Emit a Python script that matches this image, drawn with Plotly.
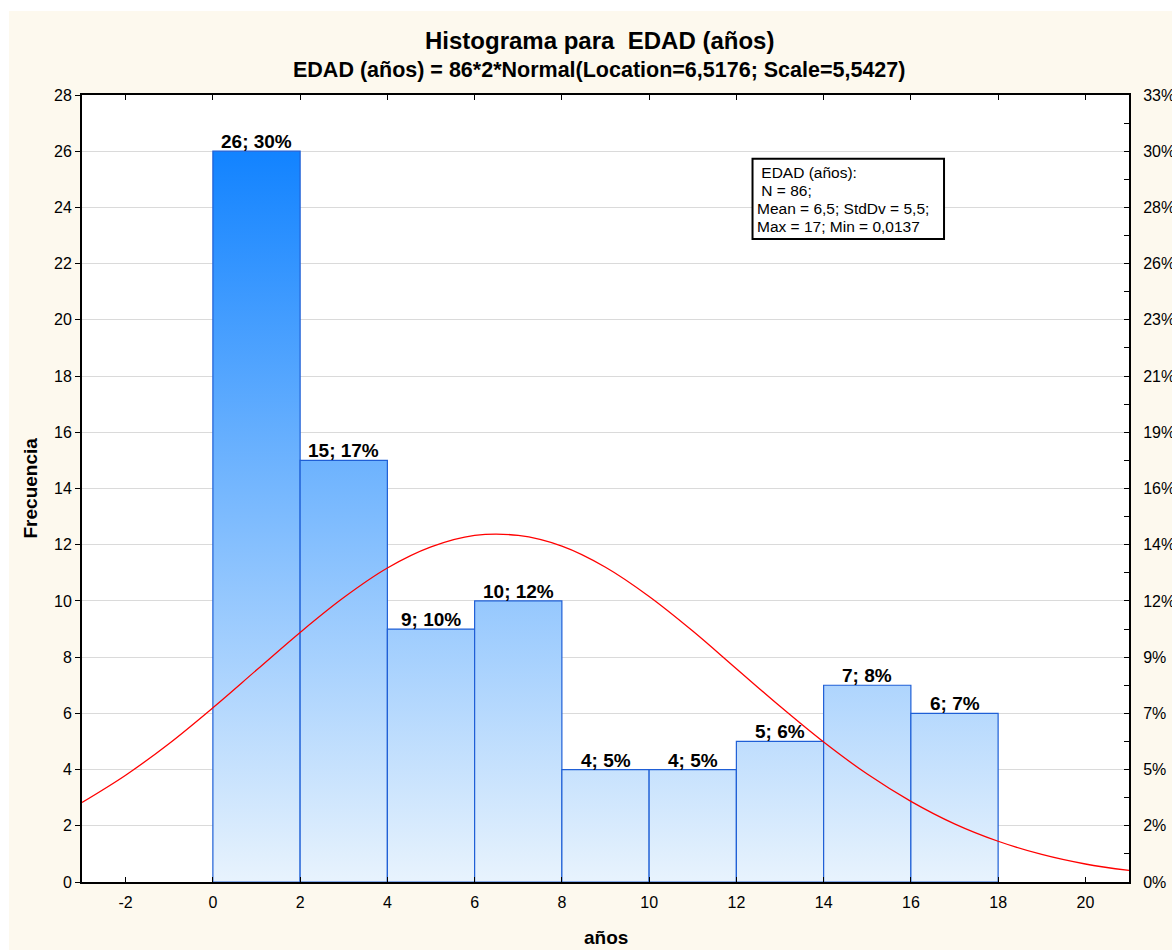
import plotly.graph_objects as go

# ---- data ----
bin_edges = [0, 2, 4, 6, 8, 10, 12, 14, 16, 18]
counts = [26, 15, 9, 10, 4, 4, 5, 7, 6]
n_total = 86
# fitted normal curve (x, expected frequency)
curve_x = list(range(-3, 22))
curve_y = [2.83, 3.80, 4.93, 6.20, 7.54, 8.88, 10.12, 11.17, 11.92, 12.33, 12.33,
           11.95, 11.20, 10.16, 8.93, 7.59, 6.25, 4.98, 3.84, 2.87, 2.07, 1.45,
           0.98, 0.64, 0.41]
x_ticks = [-2, 0, 2, 4, 6, 8, 10, 12, 14, 16, 18, 20]
x_ticktext = ["-2", "0", "2", "4", "6", "8", "10", "12", "14", "16", "18", "20"]
y_ticks = list(range(0, 29, 2))
y2_ticktext = ["0%", "2%", "5%", "7%", "9%", "12%", "14%", "16%", "19%", "21%",
               "23%", "26%", "28%", "30%", "33%"]
title_text = "Histograma para&nbsp; EDAD (años)"
subtitle_text = "EDAD (años) = 86*2*Normal(Location=6,5176; Scale=5,5427)"
stats_lines = ["&nbsp;EDAD (años):", "&nbsp;N = 86;", "Mean = 6,5; StdDv = 5,5;",
               "Max = 17; Min = 0,0137"]

FONT = "Liberation Sans, Arial, sans-serif"
CREAM = "#FDF9EE"
BAR_LINE = "#1F5FD6"

fig = go.Figure()

for i, c in enumerate(counts):
    l, r = bin_edges[i], bin_edges[i + 1]
    fig.add_trace(go.Scatter(
        x=[l, l, r, r, l], y=[0, c, c, 0, 0], mode="lines", fill="toself",
        line=dict(color=BAR_LINE, width=1.2),
        fillgradient=dict(type="vertical",
                          colorscale=[[0, "#E8F3FD"], [1, "#1283FF"]],
                          start=0, stop=max(counts)),
        hoverinfo="skip", showlegend=False))

fig.add_trace(go.Scatter(x=curve_x, y=curve_y, mode="lines",
                         line=dict(color="#FF0000", width=1.3, shape="spline"),
                         showlegend=False, hoverinfo="skip"))
# invisible trace for right axis
fig.add_trace(go.Scatter(x=[0], y=[0], yaxis="y2", mode="markers",
                         marker=dict(opacity=0), showlegend=False, hoverinfo="skip"))

# bar labels
for i, c in enumerate(counts):
    pct = round(c / n_total * 100)
    fig.add_annotation(x=(bin_edges[i] + bin_edges[i + 1]) / 2, y=c,
                       text=f"<b>{c}; {pct}%</b>", showarrow=False,
                       yanchor="bottom", yshift=-3,
                       font=dict(family=FONT, size=19, color="black"))

# stats box
fig.add_shape(type="rect", x0=12.37, x1=16.76, y0=22.88, y1=25.73,
              xref="x", yref="y", line=dict(color="black", width=2),
              fillcolor="white", layer="above")
for k, line in enumerate(stats_lines):
    fig.add_annotation(x=12.42, y=25.73, xref="x", yref="y", xanchor="left",
                       yanchor="middle", yshift=-14 - 18 * k, align="left",
                       showarrow=False, text=line,
                       font=dict(family=FONT, size=15.5, color="black"))

# titles
fig.add_annotation(x=0.4938, y=1.0, xref="paper", yref="paper", yshift=55,
                   text=f"<b>{title_text}</b>", showarrow=False, yanchor="middle",
                   font=dict(family=FONT, size=24, color="black"))
fig.add_annotation(x=0.4938, y=1.0, xref="paper", yref="paper", yshift=25,
                   text=f"<b>{subtitle_text}</b>", showarrow=False, yanchor="middle",
                   font=dict(family=FONT, size=21.5, color="black"))
fig.add_annotation(x=0.5, y=0, xref="paper", yref="paper", yshift=-55,
                   text="<b>años</b>", showarrow=False, yanchor="middle",
                   font=dict(family=FONT, size=19, color="black"))
fig.add_annotation(x=0, y=0.5, xref="paper", yref="paper", xshift=-52,
                   text="<b>Frecuencia</b>", showarrow=False, textangle=-90,
                   xanchor="center", yanchor="middle",
                   font=dict(family=FONT, size=19, color="black"))

# white outer border strips (top and left)
fig.add_shape(type="rect", xref="paper", yref="paper", x0=-0.2, x1=1.1,
              y0=1.1067, y1=1.3, fillcolor="white", line=dict(width=0), layer="below")
fig.add_shape(type="rect", xref="paper", yref="paper", x0=-0.2, x1=-0.0697,
              y0=-0.2, y1=1.3, fillcolor="white", line=dict(width=0), layer="below")

fig.update_layout(
    width=1172, height=950,
    margin=dict(l=82, r=43, t=95, b=68, autoexpand=False),
    paper_bgcolor=CREAM, plot_bgcolor="white",
    font=dict(family=FONT, size=16, color="black"),
    showlegend=False,
    xaxis=dict(range=[-3, 21], tickvals=x_ticks, ticktext=x_ticktext,
               ticks="inside", ticklen=5, ticklabelstandoff=5, automargin=False,
               tickcolor="black", showline=True, linecolor="black", linewidth=2,
               mirror="ticks", showgrid=False, zeroline=False,
               tickfont=dict(size=16)),
    yaxis=dict(range=[0, 28], tickvals=y_ticks, ticks="outside", ticklen=5,
               automargin=False,
               tickcolor="black", showline=True, linecolor="black", linewidth=2,
               showgrid=True, gridcolor="#DADADA", gridwidth=1, zeroline=False,
               tickfont=dict(size=16)),
    yaxis2=dict(range=[0, 28], overlaying="y", side="right", tickvals=y_ticks,
                ticktext=y2_ticktext, ticks="inside", ticklen=5, tickcolor="black",
                ticklabelstandoff=9, automargin=False,
                showline=True, linecolor="black", linewidth=2, showgrid=False,
                zeroline=False, tickfont=dict(size=16),
                minor=dict(tickvals=list(range(1, 28, 2)), ticks="inside",
                           ticklen=5, tickcolor="black")),
)

fig.write_html(
    "out.html",
    config={"displayModeBar": False},
    post_script="document.body.style.margin='0';document.body.style.overflow='hidden';",
)
